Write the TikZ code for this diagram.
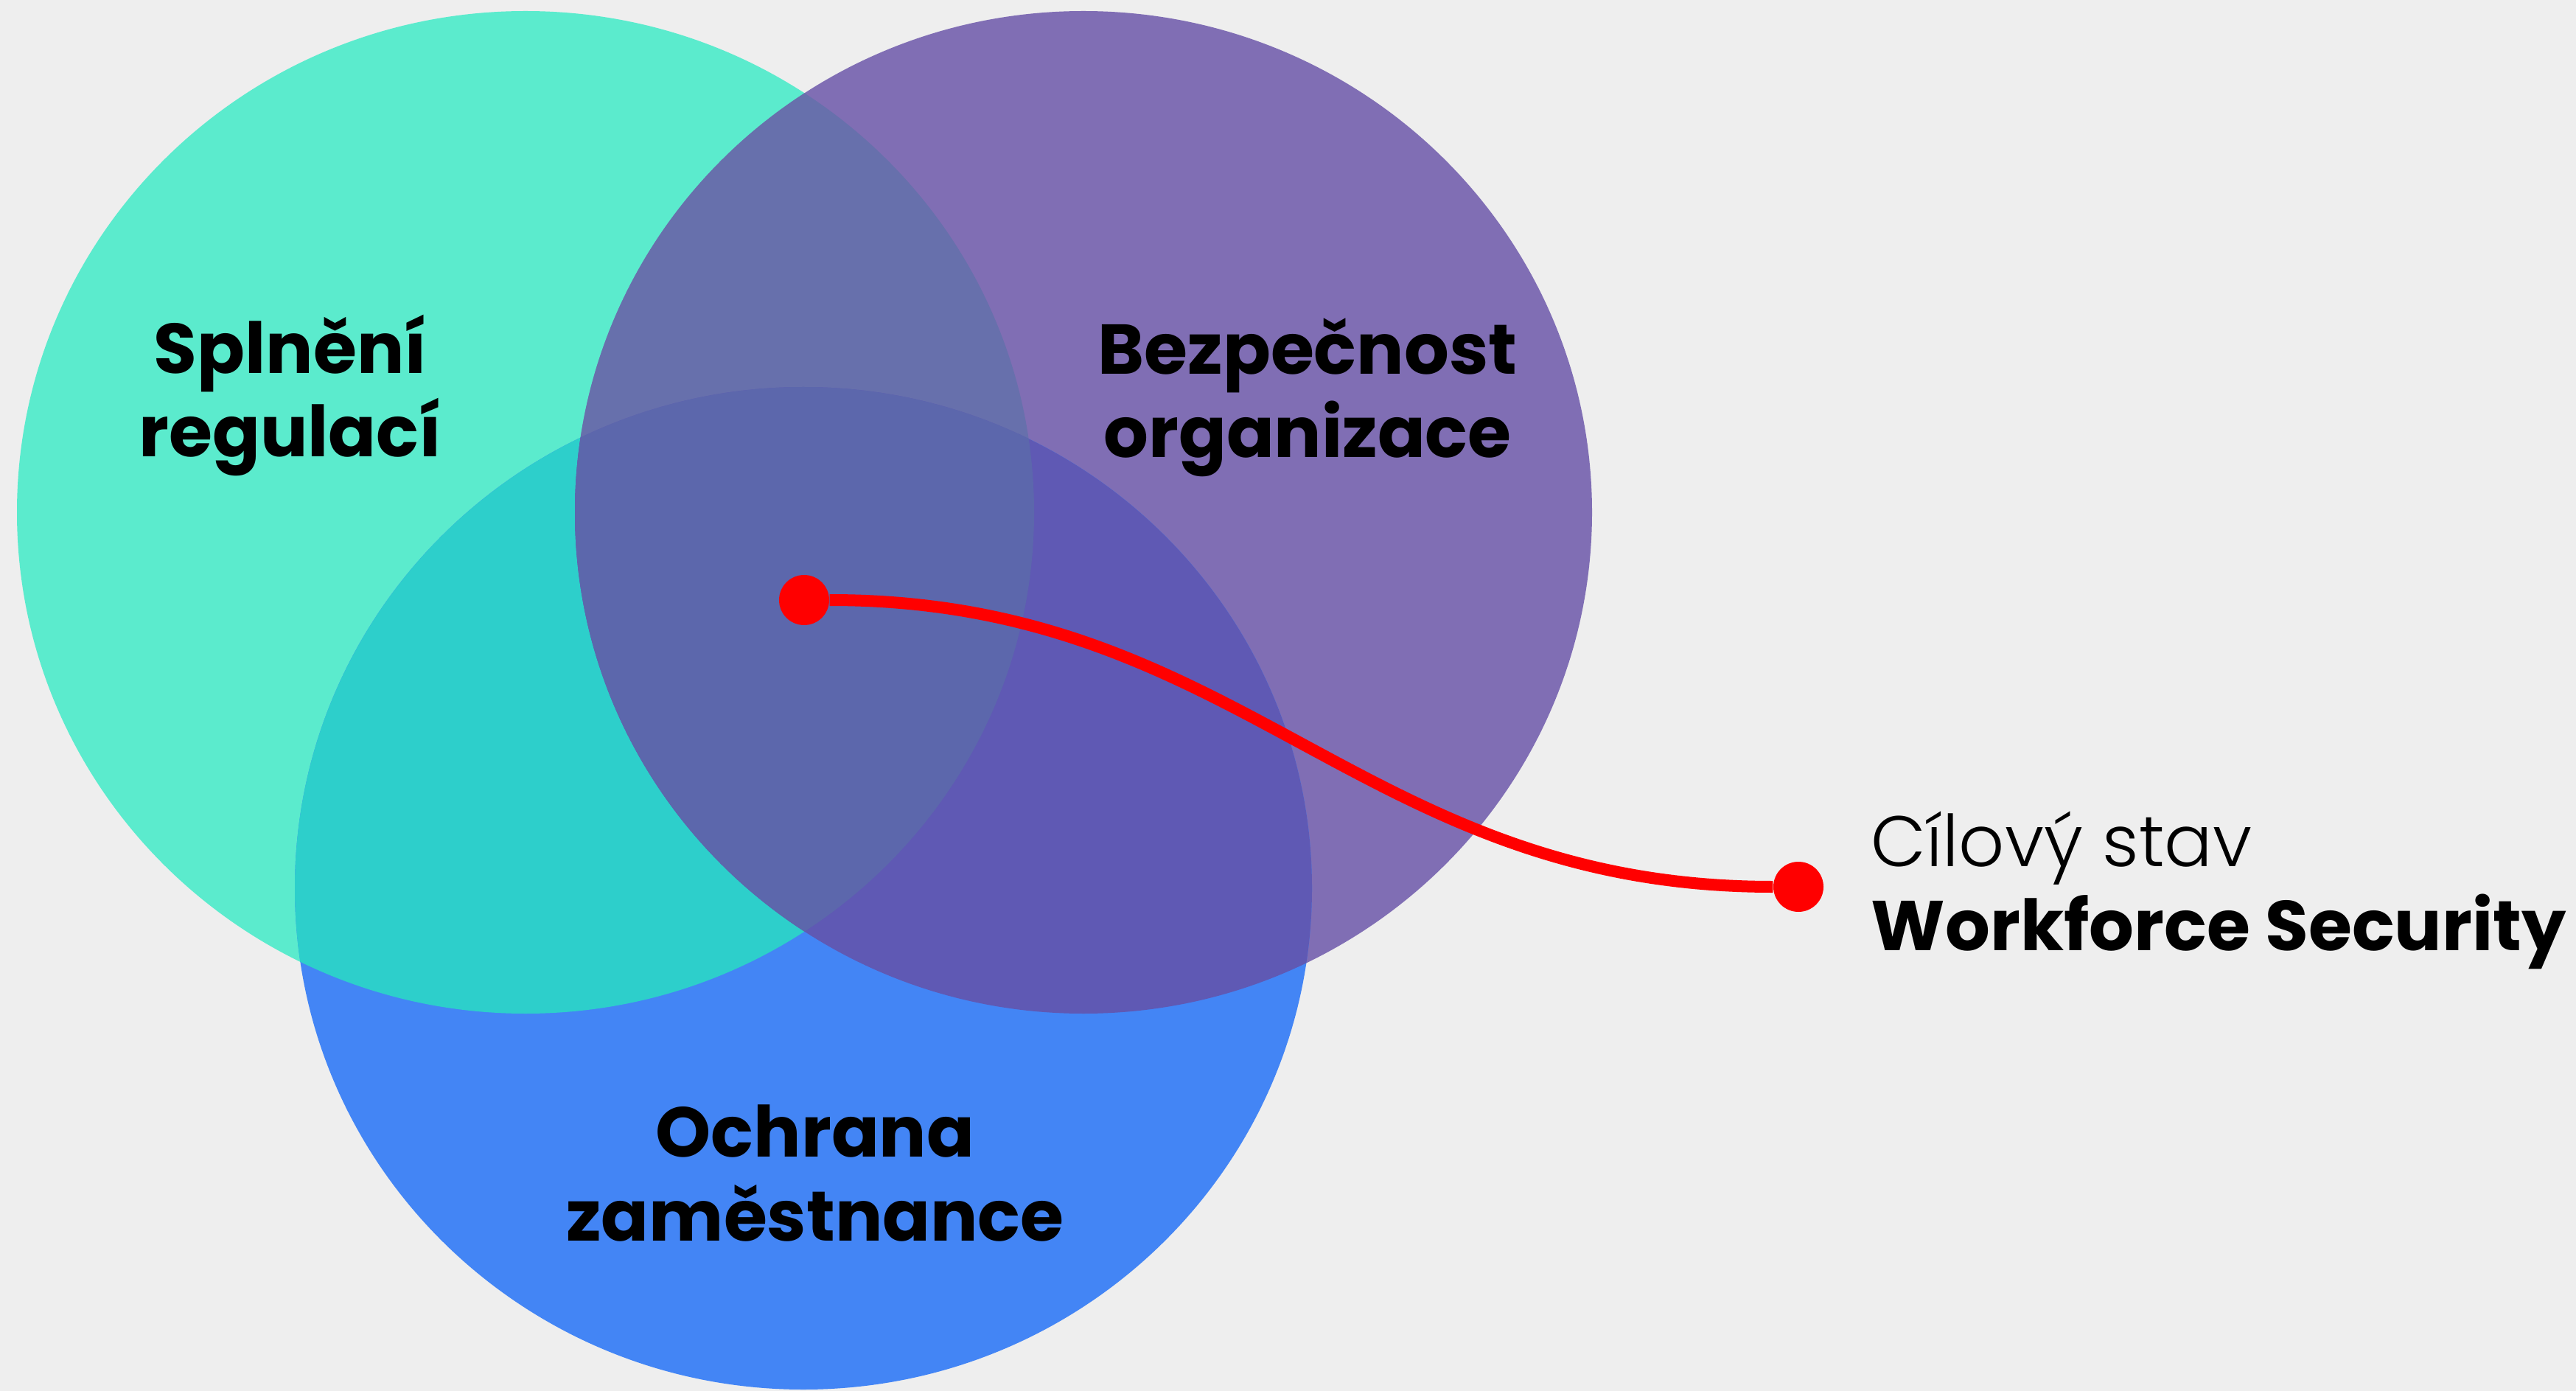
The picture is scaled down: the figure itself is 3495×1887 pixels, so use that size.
\documentclass[tikz,border=0pt]{standalone}
\usepackage{fontspec}
\setmainfont{Poppins}
\newfontfamily\poplight{Poppins Light}
\usepackage{tikz}
\definecolor{bgcol}{HTML}{EEEEEE}
\definecolor{regcol}{HTML}{5BEBCD}
\definecolor{orgcol}{HTML}{806EB4}
\definecolor{empcol}{HTML}{4385F5}
\definecolor{regempcol}{HTML}{2DCFCB}
\definecolor{regorgcol}{HTML}{6770AC}
\definecolor{orgempcol}{HTML}{5F59B4}
\definecolor{allcol}{HTML}{5C67AC}

\begin{document}
\begin{tikzpicture}[x=0.1mm, y=-0.1mm,
  setname/.style={font=\fontsize{27.2}{32.4}\selectfont\bfseries, align=center, anchor=base, inner sep=0pt},
  reddot/.style={circle, fill=red, minimum size=6.8mm, inner sep=0pt}]
\fill[bgcol] (0,0) rectangle (3495,1887);
\useasboundingbox (0,0) rectangle (3495,1887);
\coordinate (reg) at (713,695);
\coordinate (org) at (1470,695);
\coordinate (emp) at (1090,1205);
\fill[regcol] (reg) ellipse (690 and 680);
\fill[orgcol] (org) ellipse (690 and 680);
\fill[empcol] (emp) ellipse (690 and 680);
\begin{scope}
\clip (reg) ellipse (690 and 680);
\fill[regempcol] (emp) ellipse (690 and 680);
\fill[regorgcol] (org) ellipse (690 and 680);
\end{scope}
\begin{scope}
\clip (emp) ellipse (690 and 680);
\fill[orgempcol] (org) ellipse (690 and 680);
\clip (reg) ellipse (690 and 680);
\fill[allcol] (org) ellipse (690 and 680);
\end{scope}
\node[setname] (regtext) at (394,620) {Splnění\\regulací};
\node[setname] (orgtext) at (1774,621) {Bezpečnost\\organizace};
\node[setname] (emptext) at (1106,1683) {Ochrana\\zaměstnance};
\node[reddot] (start) at (1091,814) {};
\node[reddot] (goal) at (2440,1203) {};
\draw[red, line width=1.6mm] (start.east) .. controls +(560,0) and +(-560,0) .. (goal.west);
\node[anchor=base west, align=left, inner sep=0pt, font=\fontsize{27.2}{32.4}\selectfont] (goaltext) at (2538,1289) {{\poplight\fontsize{27.6}{32.4}\selectfont Cílový stav}\\\bfseries Workforce Security};
\end{tikzpicture}
\end{document}
